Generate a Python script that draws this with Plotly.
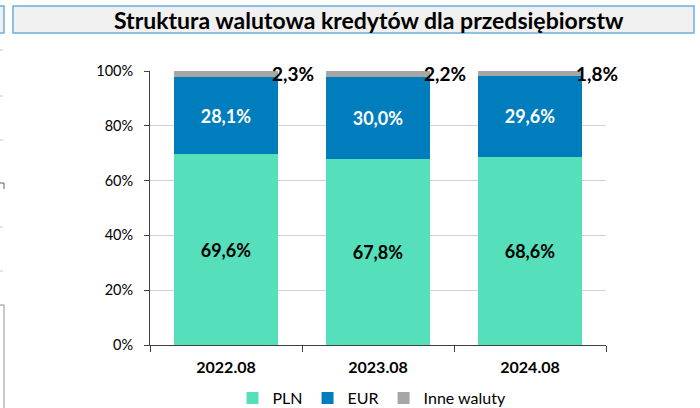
import plotly.graph_objects as go

categories = ["2022.08", "2023.08", "2024.08"]
pln = [69.6, 67.8, 68.6]
eur = [28.1, 30.0, 29.6]
inne = [2.3, 2.2, 1.8]
y_ticks = [0, 20, 40, 60, 80, 100]
y_tick_labels = ["0%", "20%", "40%", "60%", "80%", "100%"]
title_text = "Struktura walutowa kredytów dla przedsiębiorstw"

W, H = 700, 408
L, R, T, B = 150, 606, 71, 345

def px(x):
    return (x - L) / (R - L)

def py(y):
    return (B - y) / (B - T)

def pct(v):
    return f"{v:.1f}".replace(".", ",") + "%"

FONT = "Lato"
fig = go.Figure()
fig.add_bar(x=categories, y=pln, name="PLN", marker=dict(color="#55dfba", line=dict(width=0)),
            text=[pct(v) for v in pln], textposition="inside", insidetextanchor="middle",
            textfont=dict(family=FONT, size=18, color="black", weight="bold"))
fig.add_bar(x=categories, y=eur, name="EUR", marker=dict(color="#007dbd", line=dict(width=0)),
            text=[pct(v) for v in eur], textposition="inside", insidetextanchor="middle",
            textfont=dict(family=FONT, size=18, color="white", weight="bold"))
fig.add_bar(x=categories, y=inne, name="Inne waluty", marker=dict(color="#a6a6a6", line=dict(width=0)),
            textposition="none")

for i, (a, b, v) in enumerate(zip(pln, eur, inne)):
    fig.add_annotation(x=i, y=a + b + v, text=pct(v),
                       showarrow=False, xshift=67, yshift=-2,
                       font=dict(family=FONT, size=19, color="black", weight="bold"))

shapes = []
shapes.append(dict(type="rect", xref="paper", yref="paper",
                   x0=px(13), x1=px(694), y0=py(33), y1=py(6),
                   line=dict(color="#6aaee0", width=1.5), fillcolor="#f0f0f0", layer="below"))
shapes.append(dict(type="rect", xref="paper", yref="paper",
                   x0=px(-5), x1=px(4), y0=py(33), y1=py(6),
                   line=dict(color="#6aaee0", width=1.5), fillcolor="#f0f0f0", layer="below"))
for yy in [50, 96, 140, 227, 271]:
    shapes.append(dict(type="line", xref="paper", yref="paper",
                       x0=px(0), x1=px(3), y0=py(yy), y1=py(yy),
                       line=dict(color="#c8c8c8", width=1)))
shapes.append(dict(type="line", xref="paper", yref="paper",
                   x0=px(0), x1=px(4), y0=py(183), y1=py(183), line=dict(color="#606060", width=1)))
shapes.append(dict(type="line", xref="paper", yref="paper",
                   x0=px(4), x1=px(4), y0=py(183), y1=py(189), line=dict(color="#606060", width=1)))
shapes.append(dict(type="line", xref="paper", yref="paper",
                   x0=px(0), x1=px(4), y0=py(305), y1=py(305), line=dict(color="#909090", width=1)))
shapes.append(dict(type="line", xref="paper", yref="paper",
                   x0=px(4), x1=px(4), y0=py(305), y1=py(408), line=dict(color="#909090", width=1)))

fig.add_annotation(xref="paper", yref="paper", x=px(369), y=py(20), xanchor="center", yanchor="middle",
                   text=title_text, showarrow=False,
                   font=dict(family=FONT, size=23, color="black", weight="bold"))

fig.update_layout(
    width=W, height=H,
    margin=dict(l=L, r=W - R, t=T, b=H - B, autoexpand=False),
    barmode="stack", bargap=0.32,
    plot_bgcolor="white", paper_bgcolor="white",
    shapes=shapes,
    showlegend=True,
    legend=dict(orientation="h", x=px(372), xanchor="center", y=py(398), yanchor="middle",
                font=dict(family=FONT, size=16, color="black"),
                traceorder="normal", itemwidth=30, tracegroupgap=0),
    font=dict(family=FONT),
)
fig.update_xaxes(type="category", range=[-0.5, len(categories) - 0.5], autorange=False,
                 tickson="boundaries", ticks="outside", ticklen=6,
                 tickcolor="#404040", showline=True, linecolor="#404040", linewidth=1,
                 showgrid=False, tickangle=0, ticklabelstandoff=8,
                 tickfont=dict(family=FONT, size=16, color="black", weight="bold"))
fig.update_yaxes(range=[0, 100], tickmode="array", tickvals=y_ticks, ticktext=y_tick_labels,
                 ticks="outside", ticklen=5, ticklabelstandoff=8,
                 tickcolor="#404040", showline=True, linecolor="#404040", linewidth=1,
                 showgrid=True, gridcolor="#d4d4d4", gridwidth=1, zeroline=False,
                 tickfont=dict(family=FONT, size=14.5, color="black"))

fig.write_html("out.html", config={"displayModeBar": False},
               post_script="document.body.style.margin='0';")
